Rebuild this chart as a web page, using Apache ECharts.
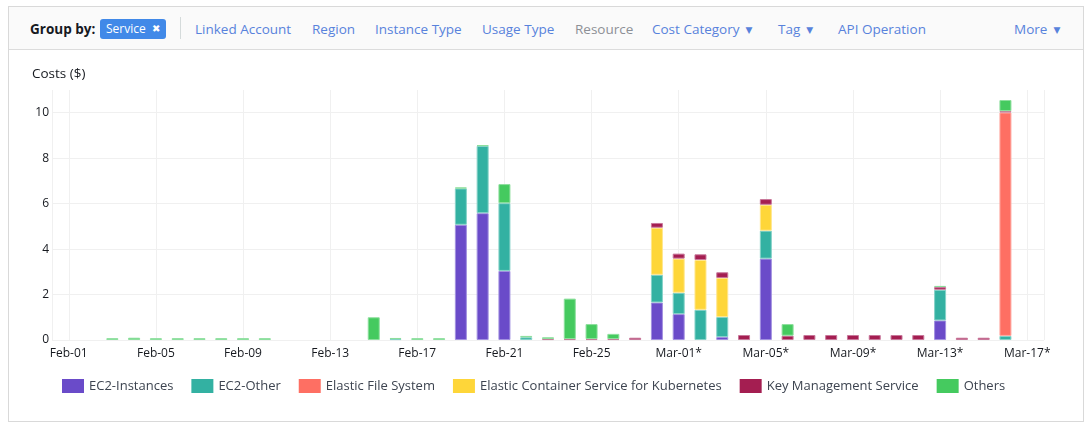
<!DOCTYPE html>
<html>
<head>
<meta charset="utf-8">
<script src="https://cdn.jsdelivr.net/npm/echarts/dist/echarts.min.js"></script>
<style>
  html, body { margin: 0; padding: 0; width: 1092px; height: 427px; background: #ffffff; overflow: hidden; }
  body { font-family: "Open Sans", "Noto Sans", sans-serif; position: relative; }
  #panel { position: absolute; left: 8px; top: 6px; width: 1074px; height: 414px; border: 1px solid #d9d9d9; box-sizing: content-box; }
  #header { position: absolute; left: 0; top: 0; width: 1074px; height: 42px; background: #fafafa; border-bottom: 1px solid #dcdcdc; }
  .t { position: absolute; top: 19px; line-height: 20px; font-size: 13.5px; white-space: nowrap; color: #5882dc; }
  .bold { font-weight: 700; color: #16191f; }
  .gray { color: #8d9096; }
  .tri { font-size: 9px; margin-left: 6px; position: relative; top: -1px; font-family: "DejaVu Sans", sans-serif; }
  #pill { position: absolute; left: 100px; top: 19px; width: 66px; height: 20px; border-radius: 3px; background: #4189e8; color: #fff; font-size: 12px; line-height: 20px; }
  #pill span.x { position: absolute; left: 52px; top: 0; font-size: 10px; font-family: "DejaVu Sans", sans-serif; font-weight: bold; }
  #divider { position: absolute; left: 180px; top: 17px; width: 1px; height: 22px; background: #d5dbdb; }
  #chart { position: absolute; left: 0; top: 0; width: 1092px; height: 427px; }
</style>
</head>
<body>
<div id="panel"><div id="header"></div></div>
<div class="t bold" style="left:30px;">Group by:</div>
<div id="pill"><span style="position:absolute;left:6px;">Service</span><span class="x">✖</span></div>
<div id="divider"></div>
<div class="t" style="left:195px;">Linked Account</div>
<div class="t" style="left:312px;">Region</div>
<div class="t" style="left:375px;">Instance Type</div>
<div class="t" style="left:482px;">Usage Type</div>
<div class="t gray" style="left:575px;">Resource</div>
<div class="t" style="left:652px;">Cost Category<span class="tri">▼</span></div>
<div class="t" style="left:778px;">Tag<span class="tri">▼</span></div>
<div class="t" style="left:838px;">API Operation</div>
<div class="t" style="left:1014px;">More<span class="tri">▼</span></div>
<div id="chart"></div>
<script>
// ---- Data ----
const days = [
  'Feb-01','Feb-02','Feb-03','Feb-04','Feb-05','Feb-06','Feb-07','Feb-08','Feb-09','Feb-10',
  'Feb-11','Feb-12','Feb-13','Feb-14','Feb-15','Feb-16','Feb-17','Feb-18','Feb-19','Feb-20',
  'Feb-21','Feb-22','Feb-23','Feb-24','Feb-25','Feb-26','Feb-27','Feb-28',
  'Mar-01*','Mar-02*','Mar-03*','Mar-04*','Mar-05*','Mar-06*','Mar-07*','Mar-08*','Mar-09*','Mar-10*',
  'Mar-11*','Mar-12*','Mar-13*','Mar-14*','Mar-15*','Mar-16*','Mar-17*'
];
const xTickLabels = ['Feb-01','Feb-05','Feb-09','Feb-13','Feb-17','Feb-21','Feb-25','Mar-01*','Mar-05*','Mar-09*','Mar-13*','Mar-17*'];
const yTicks = [0, 2, 4, 6, 8, 10];
const serviceNames = ['EC2-Instances','EC2-Other','Elastic File System','Elastic Container Service for Kubernetes','Key Management Service','Others'];

const ec2Instances = [0,0,0,0,0,0,0,0,0,0, 0,0,0,0,0,0,0,0,5.07,5.58, 3.04,0,0,0,0,0,0,1.65, 1.14,0,0.13,0,3.58,0,0,0,0,0, 0,0,0.86,0,0,0,0];
const ec2Other     = [0,0,0,0,0,0,0,0,0,0, 0,0,0,0,0,0.04,0,0,1.60,2.96, 2.98,0.12,0,0,0,0,0,1.22, 0.94,1.33,0.88,0,1.23,0,0,0,0,0, 0,0,1.35,0,0,0.18,0];
const efs          = [0,0,0,0,0,0,0,0,0,0, 0,0,0,0,0,0,0,0,0,0, 0,0,0,0,0,0,0,0, 0,0,0,0,0,0,0,0,0,0, 0,0,0,0,0,9.83,0];
const eks          = [0,0,0,0,0,0,0,0,0,0, 0,0,0,0,0,0,0,0,0,0, 0,0,0,0,0,0,0,2.07, 1.50,2.19,1.72,0,1.14,0,0,0,0,0, 0,0,0,0,0,0,0];
const kms          = [0,0,0,0,0,0,0,0,0,0, 0,0,0,0,0,0,0,0,0,0, 0,0,0.04,0.04,0.04,0.04,0.10,0.21, 0.22,0.25,0.25,0.22,0.25,0.19,0.22,0.22,0.22,0.22, 0.22,0.22,0.12,0.10,0.10,0.06,0];
const others       = [0,0,0.08,0.10,0.08,0.08,0.08,0.08,0.08,0.08, 0,0,0,0,1.00,0.05,0.08,0.08,0.04,0.03, 0.84,0.06,0.08,1.78,0.66,0.23,0,0, 0,0,0,0,0,0.51,0,0,0,0, 0,0,0.05,0,0,0.49,0];

const seriesValues = [ec2Instances, ec2Other, efs, eks, kms, others];
const seriesColors = ['#6a4bc9', '#33b1a2', '#fe6f63', '#fed639', '#a41e51', '#45ca5f'];
const seriesEdges  = ['#a291e0', '#86d2c8', '#ffa9a1', '#ffe68c', '#c8779a', '#8ddf9d'];

// ---- Chart ----
const xMin = -0.77, xMax = 44.77;
const xLabelValues = xTickLabels.map(l => days.indexOf(l));

const chart = echarts.init(document.getElementById('chart'), null, { renderer: 'canvas' });
chart.setOption({
  backgroundColor: 'transparent',
  animation: false,
  textStyle: { fontFamily: '"Open Sans", "Noto Sans", sans-serif' },
  title: {
    text: 'Costs ($)', left: 27, top: 62,
    textStyle: { fontSize: 13.5, fontWeight: 'normal', color: '#16191f', fontFamily: '"Open Sans", sans-serif' }
  },
  legend: {
    left: 57, top: 374,
    itemWidth: 22, itemHeight: 14, itemGap: 18,
    icon: 'rect',
    itemStyle: { borderWidth: 0 },
    textStyle: { fontSize: 13, color: '#3d4450', fontFamily: '"Open Sans", sans-serif' },
    data: serviceNames
  },
  grid: { left: 52, right: 48, top: 90, bottom: 87, containLabel: false },
  xAxis: {
    type: 'value', min: xMin, max: xMax,
    axisLine: { show: false },
    axisTick: { show: false, customValues: [xMin].concat(xLabelValues, [xMax]) },
    axisLabel: {
      customValues: xLabelValues, margin: 8, fontSize: 12, color: '#16191f',
      formatter: v => days[Math.round(v)]
    },
    splitLine: { show: true, lineStyle: { color: '#f0f0f0', width: 1 } }
  },
  yAxis: {
    type: 'value', min: 0, max: 11,
    axisLine: { show: false },
    axisTick: { show: false, customValues: yTicks },
    axisLabel: { customValues: yTicks, margin: 3, fontSize: 12, color: '#16191f' },
    splitLine: { show: true, lineStyle: { color: '#f0f0f0', width: 1 } }
  },
  series: serviceNames.map((name, i) => ({
    name: name,
    type: 'bar',
    stack: 'cost',
    barWidth: 12,
    encode: { x: 1, y: 0 },
    itemStyle: { color: seriesColors[i], borderColor: seriesEdges[i], borderWidth: 1 },
    data: seriesValues[i].map((v, j) => [v > 0 ? v : '-', j])
  }))
});
</script>
</body>
</html>
